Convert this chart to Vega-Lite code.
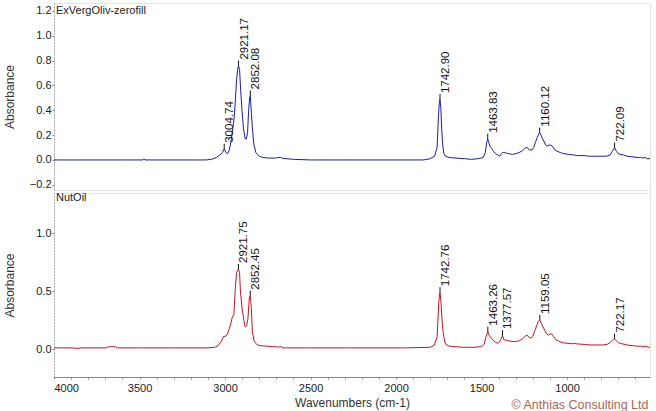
{
  "$schema": "https://vega.github.io/schema/vega-lite/v6.json",
  "background": "white",
  "padding": {"left": 2, "top": 2, "right": 3, "bottom": 0},
  "spacing": 0,
  "title": {
    "text": "© Anthias Consulting Ltd",
    "orient": "bottom",
    "anchor": "end",
    "offset": -10,
    "dx": -4,
    "font": "Liberation Sans",
    "fontSize": 12.5,
    "fontWeight": "normal",
    "color": "#b5624f"
  },
  "config": {
    "view": {"stroke": "#e6e6e6"},
    "font": "Liberation Sans",
    "axis": {
      "grid": false,
      "labelFont": "Liberation Sans",
      "titleFont": "Liberation Sans",
      "labelFontSize": 11,
      "titleFontSize": 12,
      "titleFontWeight": "normal",
      "labelColor": "#222",
      "titleColor": "#333",
      "domainColor": "#888",
      "tickColor": "#888"
    },
    "axisY": {
      "domainDash": [1, 2],
      "tickSize": 2,
      "labelPadding": 1,
      "minExtent": 33,
      "maxExtent": 33,
      "titlePadding": 5
    }
  },
  "datasets": {
    "top": [
      {"wn": 4000, "a": 0.0}, {"wn": 3900, "a": 0.0}, {"wn": 3800, "a": 0.0}, {"wn": 3700, "a": 0.0},
      {"wn": 3600, "a": 0.0}, {"wn": 3480, "a": 0.0}, {"wn": 3474, "a": 0.008}, {"wn": 3468, "a": 0.0},
      {"wn": 3300, "a": 0.0}, {"wn": 3200, "a": 0.0}, {"wn": 3110, "a": 0.0}, {"wn": 3080, "a": 0.005},
      {"wn": 3050, "a": 0.02}, {"wn": 3030, "a": 0.04}, {"wn": 3015, "a": 0.06}, {"wn": 3004.74, "a": 0.09},
      {"wn": 2995, "a": 0.06}, {"wn": 2985, "a": 0.05}, {"wn": 2975, "a": 0.08}, {"wn": 2965, "a": 0.15},
      {"wn": 2955, "a": 0.25}, {"wn": 2945, "a": 0.36}, {"wn": 2940, "a": 0.47}, {"wn": 2932, "a": 0.65},
      {"wn": 2925, "a": 0.74}, {"wn": 2921.17, "a": 0.76}, {"wn": 2915, "a": 0.73}, {"wn": 2908, "a": 0.55},
      {"wn": 2900, "a": 0.39}, {"wn": 2892, "a": 0.25}, {"wn": 2882, "a": 0.17}, {"wn": 2875, "a": 0.17},
      {"wn": 2868, "a": 0.22}, {"wn": 2862, "a": 0.4}, {"wn": 2856, "a": 0.5}, {"wn": 2852.08, "a": 0.52},
      {"wn": 2846, "a": 0.38}, {"wn": 2840, "a": 0.26}, {"wn": 2832, "a": 0.13}, {"wn": 2820, "a": 0.06},
      {"wn": 2800, "a": 0.03}, {"wn": 2780, "a": 0.02}, {"wn": 2740, "a": 0.015}, {"wn": 2700, "a": 0.015},
      {"wn": 2690, "a": 0.02}, {"wn": 2675, "a": 0.02}, {"wn": 2660, "a": 0.012}, {"wn": 2600, "a": 0.005},
      {"wn": 2500, "a": 0.0}, {"wn": 2400, "a": 0.0}, {"wn": 2300, "a": 0.0}, {"wn": 2200, "a": 0.0},
      {"wn": 2100, "a": 0.0}, {"wn": 2000, "a": 0.0}, {"wn": 1900, "a": 0.0}, {"wn": 1840, "a": 0.0},
      {"wn": 1800, "a": 0.01}, {"wn": 1775, "a": 0.03}, {"wn": 1760, "a": 0.1}, {"wn": 1752, "a": 0.35},
      {"wn": 1746, "a": 0.48}, {"wn": 1742.9, "a": 0.49}, {"wn": 1738, "a": 0.42}, {"wn": 1733, "a": 0.25},
      {"wn": 1727, "a": 0.12}, {"wn": 1720, "a": 0.05}, {"wn": 1710, "a": 0.03}, {"wn": 1690, "a": 0.02},
      {"wn": 1650, "a": 0.015}, {"wn": 1600, "a": 0.01}, {"wn": 1560, "a": 0.005}, {"wn": 1520, "a": 0.01},
      {"wn": 1490, "a": 0.02}, {"wn": 1478, "a": 0.06}, {"wn": 1470, "a": 0.14}, {"wn": 1463.83, "a": 0.17},
      {"wn": 1458, "a": 0.14}, {"wn": 1450, "a": 0.11}, {"wn": 1440, "a": 0.09}, {"wn": 1430, "a": 0.07},
      {"wn": 1418, "a": 0.05}, {"wn": 1405, "a": 0.04}, {"wn": 1395, "a": 0.03}, {"wn": 1385, "a": 0.05},
      {"wn": 1377, "a": 0.06}, {"wn": 1370, "a": 0.06}, {"wn": 1355, "a": 0.055}, {"wn": 1340, "a": 0.05},
      {"wn": 1320, "a": 0.045}, {"wn": 1300, "a": 0.05}, {"wn": 1280, "a": 0.06}, {"wn": 1260, "a": 0.075},
      {"wn": 1240, "a": 0.1}, {"wn": 1232, "a": 0.1}, {"wn": 1220, "a": 0.08}, {"wn": 1205, "a": 0.08},
      {"wn": 1195, "a": 0.1}, {"wn": 1185, "a": 0.14}, {"wn": 1175, "a": 0.18}, {"wn": 1165, "a": 0.21},
      {"wn": 1160.12, "a": 0.22}, {"wn": 1152, "a": 0.2}, {"wn": 1143, "a": 0.17}, {"wn": 1135, "a": 0.15},
      {"wn": 1125, "a": 0.12}, {"wn": 1117, "a": 0.11}, {"wn": 1105, "a": 0.12}, {"wn": 1095, "a": 0.12},
      {"wn": 1085, "a": 0.11}, {"wn": 1070, "a": 0.08}, {"wn": 1058, "a": 0.07}, {"wn": 1040, "a": 0.06},
      {"wn": 1018, "a": 0.05}, {"wn": 990, "a": 0.045}, {"wn": 960, "a": 0.04}, {"wn": 940, "a": 0.035},
      {"wn": 900, "a": 0.035}, {"wn": 870, "a": 0.03}, {"wn": 842, "a": 0.03}, {"wn": 800, "a": 0.03},
      {"wn": 770, "a": 0.03}, {"wn": 748, "a": 0.04}, {"wn": 735, "a": 0.07}, {"wn": 722.09, "a": 0.1},
      {"wn": 712, "a": 0.07}, {"wn": 700, "a": 0.05}, {"wn": 690, "a": 0.045}, {"wn": 670, "a": 0.04},
      {"wn": 650, "a": 0.03}, {"wn": 620, "a": 0.025}, {"wn": 590, "a": 0.02}, {"wn": 570, "a": 0.02},
      {"wn": 560, "a": 0.015}, {"wn": 545, "a": 0.02}, {"wn": 530, "a": 0.01}, {"wn": 515, "a": 0.01}
    ],
    "topPeaks": [
      {"wn": 3004.74, "a": 0.09, "label": "3004.74"},
      {"wn": 2921.17, "a": 0.76, "label": "2921.17"},
      {"wn": 2852.08, "a": 0.52, "label": "2852.08"},
      {"wn": 1742.9, "a": 0.49, "label": "1742.90"},
      {"wn": 1463.83, "a": 0.17, "label": "1463.83"},
      {"wn": 1160.12, "a": 0.22, "label": "1160.12"},
      {"wn": 722.09, "a": 0.1, "label": "722.09"}
    ],
    "bot": [
      {"wn": 4000, "a": 0.01}, {"wn": 3900, "a": 0.01}, {"wn": 3854, "a": 0.005}, {"wn": 3848, "a": 0.01},
      {"wn": 3700, "a": 0.01}, {"wn": 3680, "a": 0.02}, {"wn": 3640, "a": 0.02}, {"wn": 3630, "a": 0.01},
      {"wn": 3500, "a": 0.01}, {"wn": 3300, "a": 0.01}, {"wn": 3100, "a": 0.01}, {"wn": 3060, "a": 0.015},
      {"wn": 3040, "a": 0.03}, {"wn": 3020, "a": 0.07}, {"wn": 3008, "a": 0.11}, {"wn": 2995, "a": 0.11},
      {"wn": 2985, "a": 0.13}, {"wn": 2970, "a": 0.2}, {"wn": 2958, "a": 0.27}, {"wn": 2948, "a": 0.3},
      {"wn": 2940, "a": 0.52}, {"wn": 2932, "a": 0.66}, {"wn": 2921.75, "a": 0.69}, {"wn": 2915, "a": 0.66},
      {"wn": 2910, "a": 0.5}, {"wn": 2900, "a": 0.35}, {"wn": 2890, "a": 0.25}, {"wn": 2882, "a": 0.19},
      {"wn": 2874, "a": 0.2}, {"wn": 2866, "a": 0.26}, {"wn": 2858, "a": 0.44}, {"wn": 2852.45, "a": 0.46},
      {"wn": 2846, "a": 0.35}, {"wn": 2840, "a": 0.15}, {"wn": 2830, "a": 0.07}, {"wn": 2815, "a": 0.04},
      {"wn": 2800, "a": 0.03}, {"wn": 2760, "a": 0.025}, {"wn": 2720, "a": 0.02}, {"wn": 2700, "a": 0.02},
      {"wn": 2690, "a": 0.015}, {"wn": 2680, "a": 0.02}, {"wn": 2670, "a": 0.02}, {"wn": 2660, "a": 0.01},
      {"wn": 2500, "a": 0.01}, {"wn": 2300, "a": 0.01}, {"wn": 2100, "a": 0.01}, {"wn": 1950, "a": 0.01},
      {"wn": 1800, "a": 0.015}, {"wn": 1778, "a": 0.03}, {"wn": 1760, "a": 0.1}, {"wn": 1750, "a": 0.4},
      {"wn": 1745, "a": 0.48}, {"wn": 1742.76, "a": 0.49}, {"wn": 1737, "a": 0.4}, {"wn": 1731, "a": 0.25},
      {"wn": 1725, "a": 0.15}, {"wn": 1715, "a": 0.06}, {"wn": 1708, "a": 0.04}, {"wn": 1690, "a": 0.025},
      {"wn": 1650, "a": 0.02}, {"wn": 1600, "a": 0.015}, {"wn": 1550, "a": 0.015}, {"wn": 1500, "a": 0.02},
      {"wn": 1485, "a": 0.04}, {"wn": 1475, "a": 0.1}, {"wn": 1463.26, "a": 0.15}, {"wn": 1456, "a": 0.12},
      {"wn": 1445, "a": 0.1}, {"wn": 1435, "a": 0.08}, {"wn": 1420, "a": 0.06}, {"wn": 1405, "a": 0.05},
      {"wn": 1395, "a": 0.06}, {"wn": 1385, "a": 0.09}, {"wn": 1377.57, "a": 0.12}, {"wn": 1370, "a": 0.08},
      {"wn": 1355, "a": 0.075}, {"wn": 1340, "a": 0.07}, {"wn": 1320, "a": 0.065}, {"wn": 1300, "a": 0.065},
      {"wn": 1280, "a": 0.07}, {"wn": 1260, "a": 0.09}, {"wn": 1245, "a": 0.11}, {"wn": 1234, "a": 0.12},
      {"wn": 1222, "a": 0.1}, {"wn": 1210, "a": 0.095}, {"wn": 1200, "a": 0.11}, {"wn": 1188, "a": 0.16},
      {"wn": 1178, "a": 0.2}, {"wn": 1168, "a": 0.24}, {"wn": 1159.05, "a": 0.25}, {"wn": 1150, "a": 0.22},
      {"wn": 1140, "a": 0.19}, {"wn": 1130, "a": 0.16}, {"wn": 1120, "a": 0.13}, {"wn": 1110, "a": 0.12},
      {"wn": 1100, "a": 0.13}, {"wn": 1090, "a": 0.13}, {"wn": 1080, "a": 0.11}, {"wn": 1065, "a": 0.08},
      {"wn": 1050, "a": 0.07}, {"wn": 1030, "a": 0.055}, {"wn": 1000, "a": 0.05}, {"wn": 970, "a": 0.045},
      {"wn": 959, "a": 0.05}, {"wn": 945, "a": 0.045}, {"wn": 900, "a": 0.04}, {"wn": 860, "a": 0.035},
      {"wn": 825, "a": 0.035}, {"wn": 790, "a": 0.035}, {"wn": 766, "a": 0.04}, {"wn": 745, "a": 0.06},
      {"wn": 732, "a": 0.08}, {"wn": 722.17, "a": 0.09}, {"wn": 712, "a": 0.07}, {"wn": 700, "a": 0.055},
      {"wn": 678, "a": 0.045}, {"wn": 650, "a": 0.035}, {"wn": 620, "a": 0.03}, {"wn": 590, "a": 0.025},
      {"wn": 570, "a": 0.025}, {"wn": 555, "a": 0.02}, {"wn": 540, "a": 0.025}, {"wn": 525, "a": 0.015},
      {"wn": 515, "a": 0.015}
    ],
    "botPeaks": [
      {"wn": 2921.75, "a": 0.69, "label": "2921.75"},
      {"wn": 2852.45, "a": 0.46, "label": "2852.45"},
      {"wn": 1742.76, "a": 0.49, "label": "1742.76"},
      {"wn": 1463.26, "a": 0.15, "label": "1463.26"},
      {"wn": 1377.57, "a": 0.12, "label": "1377.57"},
      {"wn": 1159.05, "a": 0.25, "label": "1159.05"},
      {"wn": 722.17, "a": 0.09, "label": "722.17"}
    ]
  },
  "vconcat": [
    {
      "width": 596,
      "height": 187,
      "title": {
        "text": "ExVergOliv-zerofill",
        "anchor": "start",
        "frame": "group",
        "offset": -13,
        "dx": 2,
        "font": "Liberation Sans",
        "fontSize": 11,
        "fontWeight": "normal",
        "color": "#222"
      },
      "encoding": {
        "x": {
          "field": "wn",
          "type": "quantitative",
          "scale": {"domain": [515, 4000], "reverse": true, "nice": false, "zero": false},
          "axis": null
        },
        "y": {
          "field": "a",
          "type": "quantitative",
          "scale": {"domain": [-0.242, 1.264], "nice": false, "zero": false},
          "axis": {"title": "Absorbance", "values": [-0.2, 0, 0.2, 0.4, 0.6, 0.8, 1.0, 1.2], "format": ".1f"}
        }
      },
      "layer": [
        {
          "data": {"name": "top"},
          "mark": {"type": "line", "color": "#1c1cab", "strokeWidth": 1}
        },
        {
          "data": {"name": "topPeaks"},
          "mark": {"type": "rule", "color": "#111", "strokeWidth": 1, "y2Offset": -5},
          "encoding": {"y2": {"field": "a"}}
        },
        {
          "data": {"name": "topPeaks"},
          "mark": {"type": "text", "angle": 270, "align": "left", "baseline": "top", "dx": 6, "fontSize": 11.5, "font": "Liberation Sans", "color": "#111"},
          "encoding": {"text": {"field": "label"}}
        }
      ]
    },
    {
      "width": 596,
      "height": 184,
      "title": {
        "text": "NutOil",
        "anchor": "start",
        "frame": "group",
        "offset": -10,
        "dx": 2,
        "font": "Liberation Sans",
        "fontSize": 11,
        "fontWeight": "normal",
        "color": "#222"
      },
      "encoding": {
        "x": {
          "field": "wn",
          "type": "quantitative",
          "scale": {"domain": [515, 4000], "reverse": true, "nice": false, "zero": false},
          "axis": {
            "title": "Wavenumbers  (cm-1)",
            "values": [4000, 3900, 3800, 3700, 3600, 3500, 3400, 3300, 3200, 3100, 3000, 2900, 2800, 2700, 2600, 2500, 2400, 2300, 2200, 2100, 2000, 1900, 1800, 1700, 1600, 1500, 1400, 1300, 1200, 1100, 1000, 900, 800, 700, 600],
            "format": "d",
            "labelExpr": "datum.value % 500 === 0 ? datum.label : ''",
            "tickSize": 2,
            "labelPadding": 3,
            "titlePadding": 4
          }
        },
        "y": {
          "field": "a",
          "type": "quantitative",
          "scale": {"domain": [-0.241, 1.345], "nice": false, "zero": false},
          "axis": {"title": "Absorbance", "values": [0, 0.5, 1.0], "format": ".1f"}
        }
      },
      "layer": [
        {
          "data": {"name": "bot"},
          "mark": {"type": "line", "color": "#c8141e", "strokeWidth": 1}
        },
        {
          "data": {"name": "botPeaks"},
          "mark": {"type": "rule", "color": "#111", "strokeWidth": 1, "y2Offset": -5},
          "encoding": {"y2": {"field": "a"}}
        },
        {
          "data": {"name": "botPeaks"},
          "mark": {"type": "text", "angle": 270, "align": "left", "baseline": "top", "dx": 6, "fontSize": 11.5, "font": "Liberation Sans", "color": "#111"},
          "encoding": {"text": {"field": "label"}}
        }
      ]
    }
  ]
}
